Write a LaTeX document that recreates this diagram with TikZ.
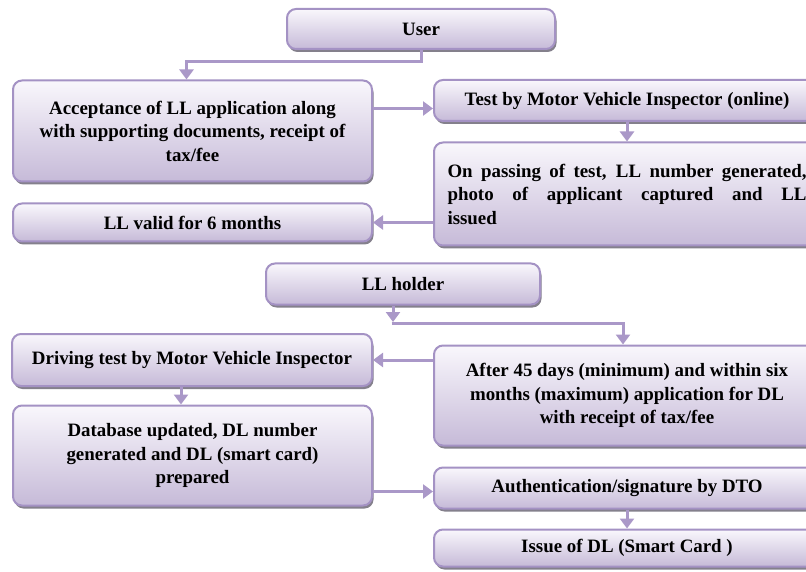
\documentclass[tikz,border=0pt]{standalone}
\usepackage{fontspec}
\setmainfont{Liberation Serif}
\usetikzlibrary{arrows.meta,shadows}
\definecolor{bordc}{RGB}{164,146,196}
\definecolor{arrc}{RGB}{170,152,200}
\definecolor{topc}{RGB}{249,247,252}
\definecolor{botc}{RGB}{198,186,216}
\definecolor{shadc}{RGB}{132,128,140}
\tikzset{
  box/.style={draw=bordc, line width=2pt, rounded corners=9pt,
    top color=topc, bottom color=botc,
    drop shadow={shadow xshift=1.5pt, shadow yshift=-3pt, fill=shadc, opacity=1},
    font=\fontsize{18.9}{23.5}\selectfont\bfseries, align=center, inner sep=3pt},
  arr/.style={draw=arrc, line width=3pt, -{Triangle[length=10pt,width=14pt]}},
}
\begin{document}
\begin{tikzpicture}[x=1pt,y=-1pt]
\useasboundingbox (0,0) rectangle (806,572);
\clip (0,0) rectangle (806,572);
\fill[white] (0,0) rectangle (806,572);
% boxes
\node[box, minimum width=268pt, minimum height=40pt] (user) at (421,29) {User};
\node[box, minimum width=359pt, minimum height=101pt] (acc) at (192.5,131) {Acceptance of LL application along\\with supporting documents, receipt of\\tax/fee};
\node[box, minimum width=386pt, minimum height=41pt] (test) at (627,100.5) {Test by Motor Vehicle Inspector (online)};
\node[box, minimum width=386pt, minimum height=103pt, text width=359pt, align=justify] (pass) at (627,194) {\rightskip=12pt On passing of test, LL number generated,\linebreak photo of applicant captured and LL\linebreak issued};
\node[box, minimum width=359pt, minimum height=38pt] (valid) at (192.5,222.5) {LL valid for 6 months};
\node[box, minimum width=274pt, minimum height=41pt] (holder) at (403,284) {LL holder};
\node[box, minimum width=360pt, minimum height=52pt] (drive) at (192,360) {Driving test by Motor Vehicle Inspector};
\node[box, minimum width=386pt, minimum height=100pt] (after) at (627,395.5) {After 45 days (minimum) and within six\\months (maximum) application for DL\\with receipt of tax/fee};
\node[box, minimum width=359pt, minimum height=100pt] (db) at (192.5,455.5) {Database updated, DL number\\generated and DL (smart card)\\prepared};
\node[box, minimum width=386pt, minimum height=41pt] (auth) at (627,488) {Authentication/signature by DTO};
\node[box, minimum width=386pt, minimum height=37pt] (issue) at (627,548) {Issue of DL (Smart Card )};
% connectors
\coordinate (ub) at ([yshift=-12pt]user.south);
\coordinate (at) at ([xshift=-6pt]acc.north);
\draw[arr] (user.south) -- (ub) -| (at);
\coordinate (tw) at ([yshift=-8pt]test.west);
\draw[arr] (acc.east |- tw) -- (tw);
\draw[arr] (test.south) -- (pass.north);
\draw[arr] (pass.west |- valid.east) -- (valid.east);
\coordinate (hs) at ([xshift=-10pt]holder.south);
\coordinate (hb) at ([yshift=-18pt]hs);
\coordinate (an) at ([xshift=-4pt]after.north);
\draw[arr] (hs) -- ([yshift=1.5pt]hb);
\draw[arr] ([xshift=-1.5pt]hb) -| (an);
\draw[arr] (after.west |- drive.east) -- (drive.east);
\coordinate (ds) at ([xshift=-11pt]drive.south);
\draw[arr] (ds) -- (db.north -| ds);
\coordinate (aw) at ([yshift=-3.5pt]auth.west);
\draw[arr] (db.east |- aw) -- (aw);
\draw[arr] (auth.south) -- (issue.north);
\end{tikzpicture}
\end{document}
